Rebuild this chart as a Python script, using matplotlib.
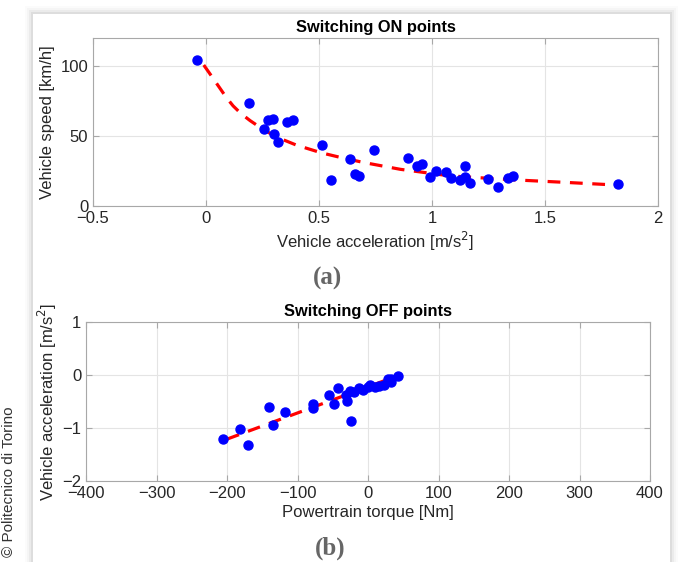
import matplotlib
matplotlib.use("Agg")
import matplotlib.pyplot as plt
from matplotlib.patches import Rectangle

plt.rcParams['font.family'] = ['Liberation Sans', 'DejaVu Sans']

# Switching ON points: acceleration [m/s^2] vs speed [km/h]
on_acc = [-0.038, 0.19, 0.276, 0.298, 0.257, 0.30, 0.319, 0.36, 0.384, 0.512,
          0.552, 0.637, 0.658, 0.678, 0.742, 0.892, 0.935, 0.954, 0.991, 1.018,
          1.062, 1.083, 1.124, 1.147, 1.147, 1.168, 1.249, 1.293, 1.338, 1.36, 1.824]
on_speed = [104.3, 73.8, 61.4, 61.9, 54.8, 51.2, 45.9, 60.0, 61.4, 43.6,
            18.4, 33.4, 22.6, 21.2, 40.2, 34.1, 28.6, 30.0, 20.9, 25.2,
            24.1, 20.2, 18.6, 28.6, 20.9, 16.2, 19.5, 13.8, 20.2, 21.6, 15.5]
on_fit_acc = [-0.01, 0.03, 0.06, 0.09, 0.12, 0.155, 0.195, 0.25, 0.31, 0.40, 0.51,
              0.60, 0.70, 0.86, 1.08, 1.36, 1.60, 1.80]
on_fit_speed = [100.7, 91.5, 84.5, 77.5, 71.5, 66.0, 61.0, 55.0, 49.4, 43.5, 38.0,
                34.5, 31.0, 26.2, 21.5, 18.7, 16.8, 15.1]

# Switching OFF points: torque [Nm] vs acceleration [m/s^2]
off_torque = [-205, -182, -170, -141, -135, -118, -78, -78, -55, -48, -42, -30,
              -31, -24, -26, -13, -7, 3, 10, 16, 23, 29, 32, 33, 43, -20, 0]
off_acc = [-1.20, -1.02, -1.33, -0.60, -0.94, -0.70, -0.54, -0.62, -0.38, -0.54,
           -0.25, -0.49, -0.38, -0.87, -0.30, -0.25, -0.29, -0.18, -0.23, -0.21,
           -0.19, -0.08, -0.13, -0.07, -0.02, -0.33, -0.22]
off_fit_torque = [-200, 41]
off_fit_acc = [-1.21, -0.02]

W, H = 679, 562
fig = plt.figure(figsize=(W / 100, H / 100), dpi=100)

# card with a soft shadow
for k, a in [(8, 0.015), (6, 0.025), (4, 0.04), (2, 0.06)]:
    fig.patches.append(Rectangle(((33 - k) / W, 0), (637 + 2 * k) / W, (548 + k) / H,
                                 transform=fig.transFigure, facecolor='black',
                                 alpha=a, edgecolor='none', zorder=-2))
fig.patches.append(Rectangle((33 / W, 0), 637 / W, 548 / H, transform=fig.transFigure,
                             facecolor='white', edgecolor='none', zorder=-1))

txt = '#262626'
spine = '#a8a8a8'


def style(ax):
    ax.patch.set_alpha(0)
    ax.grid(True, color='#e4e4e4', linewidth=0.8)
    ax.set_axisbelow(True)
    for s in ax.spines.values():
        s.set_color(spine)
        s.set_linewidth(0.8)
    ax.tick_params(direction='in', length=4, color=spine, labelsize=12, labelcolor=txt,
                   top=True, right=True, labeltop=False, labelright=False)


ax1 = fig.add_axes([93 / W, 356 / H, 565 / W, 168 / H])
ax1.plot(on_fit_acc, on_fit_speed, '--', color='#ff0000', lw=2.3, dashes=(4, 3), zorder=2)
ax1.plot(on_acc, on_speed, 'o', color='#0000ff', ms=6.5, zorder=3)
ax1.set_xlim(-0.5, 2)
ax1.set_ylim(0, 120)
ax1.set_xticks([-0.5, 0, 0.5, 1, 1.5, 2])
ax1.set_xticklabels(['\u22120.5', '0', '0.5', '1', '1.5', '2'])
ax1.set_yticks([0, 50, 100])
style(ax1)
ax1.set_title('Switching ON points', fontsize=11.8, fontweight='bold', color='black', pad=4)
ax1.set_xlabel('Vehicle acceleration [m/s$^2$]', fontsize=12, color=txt, labelpad=3)
ax1.set_ylabel('Vehicle speed [km/h]', fontsize=12, color=txt, labelpad=4)

ax2 = fig.add_axes([86 / W, 81 / H, 564 / W, 159 / H])
ax2.plot(off_fit_torque, off_fit_acc, '--', color='#ff0000', lw=2.3, dashes=(4, 3), zorder=2)
ax2.plot(off_torque, off_acc, 'o', color='#0000ff', ms=6.5, zorder=3)
ax2.set_xlim(-400, 400)
ax2.set_ylim(-2, 1)
ax2.set_xticks(range(-400, 401, 100))
ax2.set_xticklabels(['\u2212400', '\u2212300', '\u2212200', '\u2212100', '0',
                     '100', '200', '300', '400'])
ax2.set_yticks([-2, -1, 0, 1])
ax2.set_yticklabels(['\u22122', '\u22121', '0', '1'])
style(ax2)
ax2.set_title('Switching OFF points', fontsize=11.8, fontweight='bold', color='black', pad=4)
ax2.set_xlabel('Powertrain torque [Nm]', fontsize=12, color=txt, labelpad=3)
ax2.set_ylabel('Vehicle acceleration [m/s$^2$]', fontsize=12, color=txt, labelpad=2)

fig.text(327 / W, 1 - 278 / H, '(a)', family='Liberation Serif', fontweight='bold',
         fontsize=18, color='#666666', ha='center', va='center')
fig.text(330 / W, 1 - 548 / H, '(b)', family='Liberation Serif', fontweight='bold',
         fontsize=18, color='#666666', ha='center', va='center')
fig.text(9 / W, 1 - 482 / H, '\u00a9 Politecnico di Torino', rotation=90, fontsize=11,
         color='#333333', ha='center', va='center')

fig.savefig('out.png', dpi=100)
